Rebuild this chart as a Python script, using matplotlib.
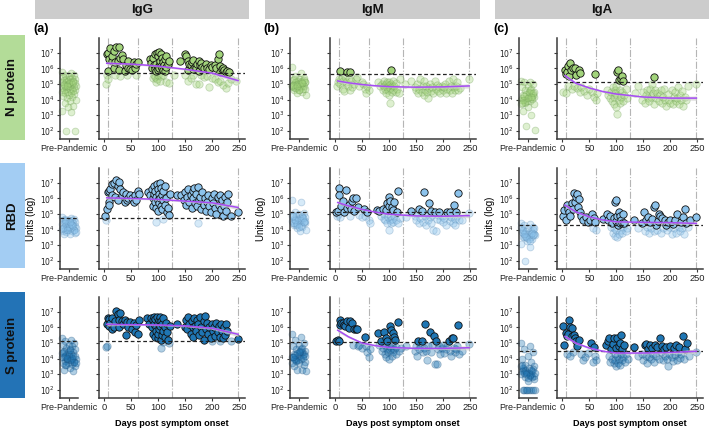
import numpy as np
import matplotlib.pyplot as plt
from matplotlib.patches import Rectangle
from matplotlib.ticker import NullLocator

# --- DATA (log10 units) ---
ANTIBODIES = ["IgG", "IgM", "IgA"]
ANTIGENS = ["N protein", "RBD", "S protein"]
PANEL_TAGS = ["(a)", "(b)", "(c)"]
DAY_TICKS = [0, 50, 100, 150, 200, 250]
VISIT_DAYS = [7, 63, 125, 248]

# positivity thresholds, rows = antigen, cols = antibody
THRESH = [[5.72, 5.65, 5.14],
          [4.76, 5.10, 4.29],
          [5.13, 5.05, 4.47]]

TREND_DAYS = [5, 25, 50, 75, 100, 150, 200, 248]
TREND_IGG_N = [6.33, 6.31, 6.28, 6.22, 6.15, 5.95, 5.70, 5.22]
TREND_IGG_RBD = [6.04, 6.02, 6.00, 5.97, 5.94, 5.83, 5.72, 5.42]
TREND_IGG_S = [6.20, 6.19, 6.18, 6.17, 6.16, 6.10, 5.95, 5.56]
TREND_IGM_N = [5.20, 5.08, 4.97, 4.89, 4.83, 4.80, 4.82, 4.88]
TREND_IGM_RBD = [5.74, 5.52, 5.30, 5.12, 4.99, 4.88, 4.86, 4.90]
TREND_IGM_S = [5.82, 5.40, 5.00, 4.83, 4.72, 4.66, 4.66, 4.70]
TREND_IGA_N = [5.54, 5.05, 4.75, 4.52, 4.36, 4.17, 4.10, 4.10]
TREND_IGA_RBD = [5.57, 5.14, 4.82, 4.62, 4.50, 4.47, 4.45, 4.40]
TREND_IGA_S = [5.42, 5.00, 4.68, 4.48, 4.36, 4.36, 4.40, 4.47]
TREND_CI = [0.12, 0.07, 0.06, 0.05, 0.05, 0.06, 0.08, 0.14]

IGG_N = [(3,5.0),(5,5.6),(5,6.9),(7,5.85),(8,7.0),(8,5.35),(10,6.6),(12,7.3),(14,6.45),(15,6.8),(18,7.1),(18,6.05),(20,6.4),(20,5.55),(22,7.4),(25,6.5),(27,7.35),(28,5.9),(30,6.7),(30,5.5),(33,6.85),(35,6.6),(38,5.85),(40,6.2),(42,5.55),(44,6.05),(45,6.5),(48,5.95),(52,5.9),(55,6.4),(58,6.0),(60,6.3),(60,5.6),(62,6.4),
         (85,6.6),(86,6.35),(88,6.0),(90,6.7),(90,5.4),(92,6.2),(92,5.6),(94,5.95),(95,6.9),(95,5.45),(96,6.3),(97,5.85),(97,5.1),(98,7.0),(98,5.3),(99,6.1),(100,6.8),(100,5.9),(100,5.55),(101,6.0),(102,7.05),(103,6.35),(103,5.2),(104,6.5),(105,6.15),(106,6.95),(106,5.5),(107,6.05),(108,6.7),(109,5.9),(110,6.4),(110,5.6),(111,6.2),(112,6.6),(113,5.85),(114,6.1),(115,6.8),(115,5.1),(118,6.3),(120,6.5),(120,5.05),
         (130,5.6),(140,6.5),
         (150,6.95),(150,5.55),(152,6.8),(155,6.5),(155,5.9),(155,5.2),(158,6.3),(160,6.2),(160,5.4),(163,6.4),(165,6.55),(165,5.95),(165,5.6),(168,6.1),(170,6.0),(170,5.0),(172,6.3),(175,6.5),(175,5.85),(175,5.0),(178,6.2),(180,6.35),(180,5.55),(182,6.1),(185,6.0),(185,5.45),(188,6.3),(190,6.05),(190,5.5),(195,5.95),(195,4.8),(198,6.2),(200,6.1),(200,5.4),(205,6.25),(205,5.3),(208,6.0),(210,6.6),(210,5.15),(212,6.9),(215,6.15),(215,5.8),(215,5.2),(218,5.95),(220,6.05),(220,4.95),(222,5.9),(225,5.8),(225,4.75),(228,5.85),(230,5.05),(232,5.8),(235,5.3),(245,5.2)]

IGG_RBD = [(2,4.9),(4,4.65),(5,5.3),(7,6.4),(9,6.5),(9,5.75),(10,5.6),(12,6.6),(14,6.2),(15,6.9),(18,7.0),(20,6.1),(22,7.15),(25,6.8),(26,5.9),(28,7.05),(30,6.6),(33,6.2),(36,6.4),(38,5.8),(40,6.3),(42,5.9),(45,6.0),(48,6.25),(52,6.0),(55,5.8),(58,6.2),(60,5.9),(62,6.5),(64,6.3),
           (82,6.4),(85,6.2),(88,6.6),(90,6.0),(91,5.5),(92,6.8),(93,6.3),(94,5.8),(95,6.5),(96,6.1),(97,5.4),(97,4.5),(98,6.9),(99,5.9),(100,6.6),(100,5.2),(101,6.3),(102,5.7),(103,7.0),(104,6.0),(105,5.5),(106,6.7),(107,5.3),(108,6.2),(109,5.9),(110,6.5),(110,4.7),(112,5.6),(113,6.8),(115,6.0),(116,5.15),(118,5.4),(120,4.95),(122,6.3),
           (135,6.2),(142,6.25),
           (148,5.9),(150,6.4),(152,5.6),(154,6.1),(156,6.6),(158,5.8),(160,6.2),(162,5.4),(164,6.5),(165,6.0),(166,6.7),(168,5.7),(170,6.3),(172,5.5),(173,4.4),(174,6.75),(176,5.9),(178,6.1),(180,5.3),(182,6.4),(184,5.6),(186,6.0),(188,5.2),(190,5.8),(192,6.2),(195,5.5),(198,5.1),(200,6.0),(202,5.7),(204,6.3),(206,5.4),(208,5.0),(210,6.1),(212,5.6),(214,6.2),(216,5.3),(218,5.9),(220,4.9),(222,5.5),(224,6.1),(226,5.2),(228,5.8),(230,6.3),(234,4.85),(247,5.15)]

IGG_S = [(3,4.75),(6,4.8),(5,6.2),(7,6.6),(9,6.1),(10,6.55),(12,6.3),(14,5.9),(15,6.6),(18,6.0),(20,6.4),(22,7.05),(25,6.85),(27,6.5),(28,6.0),(30,6.9),(33,6.4),(35,6.2),(38,6.5),(40,5.5),(42,6.35),(45,6.0),(48,6.35),(52,5.9),(55,6.3),(58,5.7),(60,6.15),(62,5.55),(64,6.5),
         (80,6.6),(83,6.2),(86,6.6),(88,6.0),(90,6.5),(91,5.6),(92,6.7),(93,6.2),(94,5.4),(95,6.55),(96,6.0),(97,5.8),(98,6.65),(99,5.3),(100,6.3),(100,5.6),(101,6.5),(102,5.9),(103,6.7),(104,6.1),(105,5.2),(105,4.7),(106,6.4),(107,5.5),(108,6.2),(109,5.8),(110,6.6),(110,5.05),(112,6.0),(113,5.4),(115,6.3),(116,5.7),(118,5.2),(120,5.0),(122,6.1),
         (135,6.2),(150,6.0),
         (152,6.5),(154,5.9),(156,6.7),(158,6.2),(160,5.6),(162,6.4),(164,6.0),(165,5.4),(166,6.6),(168,6.1),(170,5.8),(172,6.5),(174,6.2),(176,5.5),(178,6.7),(180,6.0),(182,5.7),(184,6.4),(185,5.2),(186,6.75),(188,5.9),(190,6.3),(192,5.6),(195,6.0),(197,5.3),(200,6.2),(200,5.1),(202,5.8),(204,6.0),(206,5.45),(208,6.3),(210,5.7),(212,6.1),(214,5.4),(215,5.1),(216,6.2),(218,5.8),(220,5.3),(222,6.0),(224,5.5),(226,6.25),(228,5.8),(235,5.1),(247,5.25)]

IGM_N = [(3,4.9),(5,5.1),(7,5.3),(9,5.0),(10,5.85),(12,5.35),(14,4.7),(15,5.2),(17,4.55),(18,5.45),(20,5.1),(22,5.75),(24,4.9),(25,5.4),(27,4.6),(28,5.75),(30,5.2),(32,4.8),(35,5.0),(38,5.3),(40,5.45),(45,4.9),(50,5.15),(52,5.0),(55,4.7),(58,4.45),(60,4.9),(62,4.6),
         (80,5.1),(84,4.85),(86,5.0),(88,4.6),(90,4.9),(91,5.2),(92,4.7),(94,5.0),(95,4.4),(96,4.8),(97,5.1),(98,4.6),(99,4.95),(100,4.3),(100,5.1),(101,3.8),(102,4.75),(103,5.0),(104,5.9),(105,4.5),(106,4.9),(107,5.2),(108,4.65),(110,4.9),(112,4.5),(113,5.05),(115,4.7),(118,4.4),(120,5.3),
         (130,5.0),(140,5.2),
         (148,4.8),(150,4.6),(152,5.0),(154,4.4),(156,4.7),(158,5.3),(160,4.5),(162,4.85),(164,4.3),(165,5.2),(166,4.65),(168,4.9),(170,4.5),(172,4.1),(174,4.75),(176,5.0),(178,4.55),(180,4.8),(182,4.4),(184,5.2),(186,4.7),(188,4.95),(190,4.55),(192,4.8),(195,4.4),(198,4.9),(200,4.6),(202,4.8),(204,5.0),(206,4.45),(208,4.7),(210,5.2),(212,4.6),(214,4.85),(216,4.4),(218,5.3),(220,4.8),(222,4.6),(224,4.9),(226,5.1),(228,4.6),(232,4.75),(247,5.3)]

IGM_RBD = [(2,5.15),(4,4.9),(5,5.2),(6,5.0),(8,6.7),(8,6.2),(10,4.8),(12,5.5),(15,5.82),(17,5.1),(20,6.57),(22,5.4),(25,5.57),(27,4.9),(30,5.35),(31,5.85),(33,6.06),(35,5.2),(39,6.06),(42,5.46),(45,4.95),(50,4.8),(53,5.35),(56,4.9),(59,5.14),(62,4.6),(64,4.4),
           (78,5.25),(82,5.2),(85,4.9),(88,5.35),(90,4.7),(91,5.0),(93,4.6),(94,5.25),(96,5.68),(97,4.4),(98,4.8),(99,6.1),(100,4.0),(100,5.5),(101,4.6),(102,5.85),(103,4.9),(104,4.45),(105,5.45),(106,4.7),(107,5.25),(108,4.5),(109,4.85),(110,5.8),(112,4.6),(114,5.1),(116,4.4),(117,6.49),(120,4.75),
           (132,4.8),(140,5.2),
           (148,4.9),(150,4.6),(153,5.05),(155,5.3),(156,4.4),(158,4.75),(160,5.2),(162,4.5),(165,6.42),(166,4.9),(168,4.3),(170,5.0),(172,4.6),(173,5.72),(175,4.8),(177,5.2),(178,4.45),(180,4.95),(182,4.0),(185,5.15),(186,3.9),(188,4.7),(190,4.95),(192,5.15),(195,4.6),(198,4.85),(200,4.5),(202,4.75),(205,4.3),(208,5.15),(210,4.9),(212,4.55),(213,5.15),(215,4.8),(218,4.4),(220,5.57),(221,4.7),(222,4.3),(224,5.15),(226,4.85),(227,6.36),(230,4.6),(234,4.6),(247,5.05)]

IGM_S = [(2,5.16),(5,5.2),(7,5.1),(9,6.5),(10,6.18),(12,6.3),(15,6.3),(17,6.18),(19,6.1),(23,6.39),(26,5.96),(28,6.4),(31,6.3),(33,4.85),(35,5.9),(38,5.9),(40,5.9),(42,4.8),(45,4.9),(50,4.7),(55,5.38),(57,4.8),(60,4.4),(62,4.1),(64,4.6),
         (79,5.64),(82,4.9),(85,5.16),(87,4.5),(88,4.7),(91,5.68),(92,4.3),(93,4.9),(94,5.31),(95,4.1),(96,4.6),(97,5.16),(98,4.4),(99,4.8),(100,3.95),(101,6.07),(102,4.55),(103,4.7),(104,5.85),(105,4.2),(106,4.9),(107,5.64),(108,4.4),(109,5.38),(110,4.6),(111,5.2),(112,4.3),(113,4.75),(116,6.33),(118,4.5),(122,4.7),
         (132,4.8),
         (148,4.5),(150,4.8),(152,4.2),(154,5.16),(156,4.6),(158,4.9),(160,5.16),(162,4.4),(164,4.7),(166,6.24),(168,4.5),(170,3.9),(172,4.8),(175,5.68),(177,4.4),(180,4.9),(183,5.46),(185,3.65),(186,5.16),(188,3.65),(190,4.6),(192,4.8),(195,4.3),(198,4.7),(200,4.9),(202,4.35),(205,4.6),(208,4.8),(210,5.16),(212,4.5),(214,4.2),(216,5.31),(218,5.31),(220,4.7),(222,4.4),(224,4.6),(226,4.8),(228,6.18),(230,4.3),(234,4.5),(247,4.95)]

IGA_N = [(2,4.5),(5,5.93),(6,5.67),(7,4.4),(8,5.8),(10,4.9),(11,6.18),(13,5.5),(14,6.36),(16,5.93),(18,4.7),(20,6.0),(22,4.9),(24,6.03),(26,5.6),(28,4.75),(30,5.93),(32,4.5),(33,5.71),(35,4.8),(40,4.55),(45,4.3),(50,4.7),(55,4.5),(58,4.2),(61,5.67),(62,4.0),(64,4.4),
         (82,4.6),(85,4.3),(88,4.1),(90,4.5),(92,3.9),(94,4.8),(95,4.2),(96,3.7),(97,4.6),(98,4.4),(99,3.5),(100,4.9),(101,5.76),(101,3.1),(102,4.3),(103,5.93),(104,4.0),(105,5.28),(106,4.6),(107,3.8),(108,5.33),(109,4.2),(110,5.5),(111,4.5),(112,5.2),(113,3.9),(115,4.3),(118,4.7),(120,4.1),
         (135,4.4),(140,4.9),
         (148,4.0),(150,4.5),(152,3.8),(154,4.3),(156,4.6),(158,4.1),(160,3.9),(162,4.7),(164,4.2),(165,5.0),(167,4.4),(169,5.45),(170,3.7),(172,4.6),(174,4.1),(176,4.45),(178,3.9),(180,4.3),(182,4.6),(184,3.8),(186,4.2),(188,4.7),(190,4.0),(192,3.6),(195,4.35),(198,4.0),(200,3.8),(202,4.6),(204,3.7),(206,4.2),(208,4.5),(210,3.9),(212,4.1),(214,4.8),(216,3.75),(218,4.3),(220,4.0),(222,4.55),(224,3.6),(226,4.2),(228,4.0),(232,4.9),(248,5.0)]

IGA_RBD = [(2,4.86),(4,5.25),(6,4.6),(8,5.57),(10,5.35),(12,5.14),(14,4.9),(17,5.68),(19,5.3),(22,6.32),(24,5.79),(25,6.1),(28,6.27),(29,5.46),(31,5.99),(32,5.14),(35,4.9),(39,4.65),(43,4.78),(48,4.5),(52,4.6),(55,5.03),(57,4.1),(59,4.72),(61,4.5),(63,4.0),
           (76,4.71),(82,5.03),(85,4.6),(88,4.9),(90,4.2),(92,4.45),(94,3.8),(95,4.75),(96,4.1),(97,5.79),(98,3.6),(99,4.55),(100,5.93),(100,4.0),(101,3.5),(102,4.9),(103,4.3),(104,5.1),(105,3.7),(106,4.4),(107,4.85),(108,4.0),(109,4.6),(110,3.8),(111,4.45),(112,5.0),(113,4.2),(115,4.4),(118,3.9),(120,4.1),
           (132,4.65),(140,4.1),
           (148,4.4),(151,5.12),(153,3.9),(155,4.6),(157,4.2),(159,4.8),(160,3.8),(162,4.5),(164,4.1),(166,4.7),(169,5.46),(170,3.9),(171,5.57),(173,4.3),(175,4.0),(177,4.55),(179,5.03),(181,4.9),(183,3.8),(185,4.75),(187,4.1),(189,4.6),(191,4.3),(193,3.95),(195,4.5),(198,4.2),(200,4.65),(202,3.7),(204,4.35),(206,4.1),(208,4.6),(210,3.8),(213,5.03),(215,4.2),(217,3.9),(219,4.5),(221,4.1),(223,4.8),(225,3.75),(227,5.35),(229,4.4),(232,4.2),(236,4.6),(247,4.78)]

IGA_S = [(2,6.11),(4,4.89),(6,5.63),(8,5.42),(9,4.3),(10,5.6),(12,6.47),(14,4.2),(15,6.05),(17,5.42),(18,5.95),(20,4.4),(22,5.52),(24,5.3),(26,5.1),(28,4.78),(31,5.2),(35,4.3),(38,3.9),(42,4.1),(47,4.35),(53,5.0),(56,3.8),(59,4.73),(61,4.2),(63,3.9),
         (81,4.85),(84,5.1),(86,4.2),(87,5.31),(89,3.8),(90,4.6),(92,4.0),(94,4.95),(95,3.7),(96,5.35),(97,4.3),(98,3.9),(99,4.7),(100,3.5),(101,4.15),(102,5.31),(103,3.7),(104,4.8),(105,4.0),(106,5.0),(107,3.6),(108,4.3),(109,5.52),(110,3.9),(111,4.6),(112,4.1),(114,4.85),(116,3.8),(118,4.3),(122,3.95),
         (133,4.72),(140,4.2),
         (148,4.3),(150,3.9),(152,4.89),(154,4.2),(155,4.95),(156,3.7),(158,4.6),(160,4.1),(162,4.85),(164,3.95),(166,4.7),(168,4.3),(170,3.8),(172,4.9),(174,4.2),(176,4.75),(178,4.0),(180,5.31),(182,4.4),(184,4.8),(186,3.9),(188,4.6),(190,4.2),(192,4.75),(194,4.0),(196,3.5),(198,4.3),(200,4.8),(202,4.1),(204,3.85),(206,4.7),(208,4.25),(210,4.85),(212,3.9),(214,4.4),(216,4.75),(218,4.05),(220,4.3),(223,5.42),(225,3.95),(227,4.6),(230,5.0),(234,4.2),(247,4.45)]

PRE_IGG_N = [5.8, 5.7, 5.6, 5.55, 5.5, 5.45, 5.4, 5.35, 5.3, 5.3, 5.25, 5.2, 5.2, 5.15, 5.1, 5.1, 5.05, 5.0, 5.0, 5.0, 4.95, 4.9, 4.9,
             4.85, 4.8, 4.8, 4.75, 4.7, 4.7, 4.65, 4.6, 4.6, 4.55, 4.5, 4.5, 4.45, 4.4, 4.35, 4.3, 4.25, 4.2, 4.1, 4.0, 3.9,
             3.8, 3.6, 3.5, 3.3, 3.2, 2.0, 2.0, 5.05, 4.95, 5.15, 4.85]
PRE_IGG_RBD = [4.8, 4.75, 4.7, 4.7, 4.65, 4.6, 4.6, 4.55, 4.5, 4.5, 4.45, 4.4, 4.4, 4.35, 4.3, 4.3, 4.25, 4.2, 4.2, 4.15, 4.1,
               4.1, 4.05, 4.0, 4.0, 3.95, 3.9, 3.9, 3.85, 3.8, 3.75, 3.7, 4.25, 4.15, 4.05, 4.35, 4.45, 3.95, 4.2, 4.1, 4.3,
               4.0, 3.85, 4.5, 4.6]
PRE_IGG_S = [5.3, 5.2, 5.1, 5.0, 4.9, 4.85, 4.8, 4.7, 4.65, 4.6, 4.5, 4.45, 4.4, 4.35, 4.3, 4.25, 4.2, 4.15, 4.1, 4.05, 4.0,
             3.95, 3.9, 3.85, 3.8, 3.75, 3.7, 3.65, 3.6, 3.5, 3.4, 3.3, 3.2, 4.0, 4.1, 3.9, 4.2, 3.8, 4.3, 4.4, 3.95, 4.05,
             3.7, 4.55, 3.6, 4.15]
PRE_IGM_N = [6.1, 5.7, 5.5, 5.4, 5.3, 5.25, 5.2, 5.15, 5.1, 5.05, 5.0, 4.95, 4.9, 4.85, 4.8, 4.75, 4.7, 4.65, 4.6, 4.5, 4.4,
             4.3, 5.0, 5.1, 4.9, 5.2, 4.8, 5.05, 4.95, 5.15, 4.85, 5.3, 4.7, 5.0, 4.9, 5.1, 4.75, 5.25, 4.6, 4.95, 5.05, 4.85]
PRE_IGM_RBD = [5.9, 5.8, 5.1, 5.05, 5.0, 4.95, 4.9, 4.85, 4.8, 4.75, 4.7, 4.65, 4.6, 4.55, 4.5, 4.45, 4.4, 4.35, 4.3, 4.2,
               4.1, 4.0, 3.9, 4.6, 4.5, 4.7, 4.4, 4.8, 4.3, 4.55, 4.65, 4.45, 4.75, 4.35, 4.9, 4.25, 4.6, 4.5, 4.15, 4.85]
PRE_IGM_S = [5.6, 5.4, 5.2, 5.0, 4.9, 4.8, 4.7, 4.6, 4.5, 4.4, 4.3, 4.25, 4.2, 4.1, 4.0, 3.9, 3.8, 3.7, 3.5, 3.3, 3.25, 3.2,
             4.2, 4.0, 4.3, 3.9, 4.1, 4.4, 3.85, 4.15, 4.5, 3.95, 4.05, 4.35, 3.75, 4.6, 4.25, 3.6, 4.45, 4.1]
PRE_IGA_N = [5.2, 5.15, 5.1, 5.0, 4.9, 4.8, 4.7, 4.6, 4.5, 4.4, 4.3, 4.2, 4.1, 4.0, 3.9, 3.8, 3.7, 3.5, 3.3, 3.0, 2.3, 2.05,
             4.2, 4.0, 4.3, 3.9, 4.1, 4.4, 3.85, 4.15, 4.5, 3.95, 4.05, 4.35, 3.75, 4.6, 4.25, 4.45, 4.1, 3.8, 4.2]
PRE_IGA_RBD = [4.4, 4.35, 4.3, 4.2, 4.1, 4.0, 3.9, 3.8, 3.7, 3.6, 3.5, 3.4, 3.3, 3.1, 2.9, 2.0, 3.7, 3.6, 3.8, 3.5, 3.9,
               3.65, 3.75, 3.55, 4.0, 3.45, 3.85, 3.7, 3.6, 4.1, 3.4, 3.95, 3.8, 3.5, 4.2, 3.3, 3.75, 3.65]
PRE_IGA_S = [5.0, 4.8, 4.6, 4.4, 4.2, 4.0, 3.8, 3.6, 3.5, 3.4, 3.3, 3.2, 3.1, 3.0, 2.9, 2.8, 2.7, 2.6, 2.0, 2.0, 2.0, 2.0,
             2.0, 2.0, 2.0, 2.0, 3.2, 3.0, 3.3, 2.9, 3.1, 3.4, 2.85, 3.15, 3.5, 2.95, 3.05, 3.35, 2.75, 3.6, 3.25, 3.0, 3.1]

POINTS = [[IGG_N, IGM_N, IGA_N], [IGG_RBD, IGM_RBD, IGA_RBD], [IGG_S, IGM_S, IGA_S]]
PRE = [[PRE_IGG_N, PRE_IGM_N, PRE_IGA_N], [PRE_IGG_RBD, PRE_IGM_RBD, PRE_IGA_RBD], [PRE_IGG_S, PRE_IGM_S, PRE_IGA_S]]
TRENDS = [[TREND_IGG_N, TREND_IGM_N, TREND_IGA_N], [TREND_IGG_RBD, TREND_IGM_RBD, TREND_IGA_RBD],
          [TREND_IGG_S, TREND_IGM_S, TREND_IGA_S]]

# --- STYLE ---
plt.rcParams['font.family'] = ['Liberation Sans', 'DejaVu Sans']
ROW_FILL = ['#b3dc98', '#a3cdf3', '#2373b6']
PT_FILL = ['#a2d47b', '#8cc3ec', '#1f76b4']
PT_EDGE = ['#6f9e55', '#5f8fb8', '#1b4f7c']
TREND_COLOR = '#a64bf4'
SPINE = '#3a3a3a'

W, H = 709, 428
ROW_TB = [(38, 139), (168, 269), (297, 398)]
PRE_LR = [(60, 78), (290, 308), (519, 537)]
MAIN_LR = [(98.6, 244.6), (329.6, 475.6), (556.9, 702.9)]
YLIM = (10 ** 1.48, 10 ** 7.95)


def px_box(l, t, r, b):
    return [l / W, 1 - b / H, (r - l) / W, (b - t) / H]


def style_axis(ax):
    ax.set_yscale('log')
    ax.set_ylim(*YLIM)
    for s in ['top', 'right']:
        ax.spines[s].set_visible(False)
    for s in ['left', 'bottom']:
        ax.spines[s].set_color(SPINE)
        ax.spines[s].set_linewidth(1.1)
    ax.set_yticks([10.0 ** k for k in range(2, 8)])
    ax.yaxis.set_minor_locator(NullLocator())
    ax.tick_params(length=2, width=0.8, color=SPINE, pad=1.5, labelcolor='#222222')
    ax.patch.set_alpha(0)


fig = plt.figure(figsize=(7.09, 4.28), dpi=100)

for r in range(3):
    t, b = ROW_TB[r]
    for c in range(3):
        thr = THRESH[r][c]
        fill, edge = PT_FILL[r], PT_EDGE[r]

        # pre-pandemic strip
        axp = fig.add_axes(px_box(PRE_LR[c][0], t, PRE_LR[c][1], b))
        style_axis(axp)
        pre = np.array(PRE[r][c])
        jit = ((np.arange(len(pre)) * 0.618034) % 1 - 0.5) * 0.8
        axp.scatter(jit, 10 ** pre, s=24, facecolor=fill, edgecolor=edge, alpha=0.35,
                    linewidths=0.6, clip_on=False, zorder=2)
        axp.set_xlim(-0.5, 0.5)
        axp.axhline(10 ** thr, color='#222222', lw=0.9, ls=(0, (3, 2)), zorder=3)
        axp.set_xticks([0])
        axp.set_xticklabels(['Pre-Pandemic'], fontsize=6.5)
        axp.set_yticklabels(['$10^{%d}$' % k for k in range(2, 8)], fontsize=5.5)
        if r == 1:
            axp.set_ylabel('Units (log)', fontsize=7, labelpad=3)

        # main time axis
        ax = fig.add_axes(px_box(MAIN_LR[c][0], t, MAIN_LR[c][1], b))
        style_axis(ax)
        ax.set_xlim(-10, 260)
        ax.set_yticklabels([])
        ax.set_xticks(DAY_TICKS)
        ax.tick_params(axis='x', labelsize=6.7)
        for d in VISIT_DAYS:
            ax.axvline(d, color='#b5b5b5', lw=0.8, ls='-.', zorder=1)

        pts = np.array(POINTS[r][c])
        days, vals = pts[:, 0], pts[:, 1]
        lo = vals < thr
        ax.scatter(days[lo], 10 ** vals[lo], s=28, facecolor=fill, edgecolor=edge, alpha=0.35,
                   linewidths=0.6, zorder=2)
        ax.scatter(days[~lo], 10 ** vals[~lo], s=28, facecolor=fill, edgecolor='#111111',
                   linewidths=0.6, zorder=3)

        tr = np.array(TRENDS[r][c])
        ci = np.array(TREND_CI)
        ax.fill_between(TREND_DAYS, 10 ** (tr - ci), 10 ** (tr + ci), color='#cfcfcf', alpha=0.7,
                        lw=0, zorder=4)
        ax.plot(TREND_DAYS, 10 ** tr, color=TREND_COLOR, lw=1.1, zorder=5)
        ax.axhline(10 ** thr, color='#222222', lw=0.9, ls=(0, (3, 2)), zorder=4)
        if r == 2:
            ax.set_xlabel('Days post symptom onset', fontsize=6.6, fontweight='bold', labelpad=5)

# column header strips
STRIP_LR = [(35, 249), (265, 480), (495, 709)]
for c, name in enumerate(ANTIBODIES):
    l, rr = STRIP_LR[c]
    fig.patches.append(Rectangle((l / W, 1 - 19 / H), (rr - l) / W, 19 / H, transform=fig.transFigure,
                                 facecolor='#cccccc', edgecolor='none'))
    fig.text((l + rr) / 2 / W, 1 - 9.5 / H, name, ha='center', va='center', fontsize=9.5,
             fontweight='bold', color='#111111')
    fig.text((33 + 230 * c) / W, 1 - 29 / H, PANEL_TAGS[c], ha='left', va='center', fontsize=9,
             fontweight='bold')

# row labels
BOX_TB = [(35, 140), (163, 268), (292, 398)]
for r, name in enumerate(ANTIGENS):
    t, b = BOX_TB[r]
    fig.patches.append(Rectangle((0, 1 - b / H), 25 / W, (b - t) / H, transform=fig.transFigure,
                                 facecolor=ROW_FILL[r], edgecolor='none'))
    fig.text(12.5 / W, 1 - (t + b) / 2 / H, name, ha='center', va='center', rotation=90,
             fontsize=9.5, fontweight='bold', color='#111111')

fig.savefig('out.png', dpi=100)
